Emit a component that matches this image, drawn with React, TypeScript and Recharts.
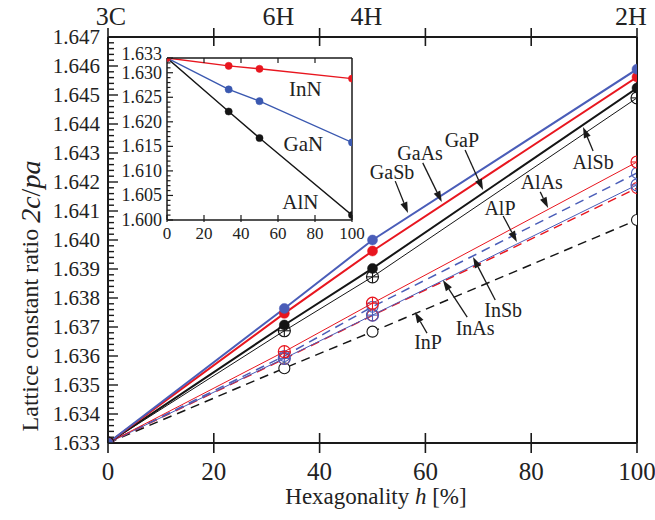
import React from 'react';
import { LineChart, Line, XAxis, YAxis, ReferenceLine, ReferenceDot, CartesianGrid } from 'recharts';

// ---------- data ----------
const HEX = [0, 33.3333, 50, 100];
const POLYTYPES = ['3C', '6H', '4H', '2H'];
const X_TICKS = [0, 20, 40, 60, 80, 100];

const GaSb = [1.633, 1.63764, 1.64, 1.64589];
const GaAs = [1.633, 1.63747, 1.63962, 1.64562];
const GaP = [1.633, 1.63707, 1.63902, 1.64524];
const AlSb = [1.633, 1.63687, 1.63873, 1.6449];
const AlAs = [1.633, 1.63615, 1.63782, 1.64269];
const AlP = [1.633, 1.63592, 1.63741, 1.6419];
const InSb = [1.633, 1.636, 1.6377, 1.64231];
const InAs = [1.633, 1.6359, 1.6374, 1.64179];
const InP = [1.633, 1.63558, 1.63684, 1.64069];

const InN = [1.633, 1.6314, 1.6308, 1.6288];
const GaN = [1.633, 1.6266, 1.6242, 1.6158];
const AlN = [1.633, 1.6221, 1.6167, 1.601];

const MAIN_Y_MIN = 1.633;
const MAIN_Y_MAX = 1.647;
const INSET_Y_MIN = 1.6;
const INSET_Y_MAX = 1.633;
const INSET_Y_LABELS = [1.6, 1.605, 1.61, 1.615, 1.62, 1.625, 1.63, 1.633];

// annotation: label position and arrow (data coords)
const MAIN_NOTES = [
  { text: 'GaSb', tx: 53.7, ty: 1.64234, x1: 54.3, y1: 1.64203, x2: 56.7, y2: 1.64093 },
  { text: 'GaAs', tx: 59.0, ty: 1.643, x1: 59.5, y1: 1.64266, x2: 63.1, y2: 1.64131 },
  { text: 'GaP', tx: 66.9, ty: 1.64345, x1: 67.5, y1: 1.6431, x2: 70.9, y2: 1.64172 },
  { text: 'AlSb', tx: 91.7, ty: 1.64269, x1: 91.7, y1: 1.64307, x2: 89.8, y2: 1.6439 },
  { text: 'AlAs', tx: 82.0, ty: 1.642, x1: 81.7, y1: 1.64166, x2: 83.2, y2: 1.6411 },
  { text: 'AlP', tx: 74.1, ty: 1.6411, x1: 74.7, y1: 1.64083, x2: 77.3, y2: 1.63993 },
  { text: 'InSb', tx: 74.7, ty: 1.63759, x1: 73.2, y1: 1.63793, x2: 69.0, y2: 1.63941 },
  { text: 'InAs', tx: 69.4, ty: 1.63697, x1: 67.9, y1: 1.63734, x2: 63.3, y2: 1.63862 },
  { text: 'InP', tx: 60.5, ty: 1.63648, x1: 60.3, y1: 1.63679, x2: 58.0, y2: 1.63752 },
];
const INSET_NOTES = [
  { text: 'InN', tx: 74.8, ty: 1.6266 },
  { text: 'GaN', tx: 73.7, ty: 1.6154 },
  { text: 'AlN', tx: 72.1, ty: 1.6037 },
];

const mainRows = HEX.map((h, i) => ({
  h, GaSb: GaSb[i], GaAs: GaAs[i], GaP: GaP[i], AlSb: AlSb[i], AlAs: AlAs[i], AlP: AlP[i],
  InSb: InSb[i], InAs: InAs[i], InP: InP[i],
}));
const insetRows = HEX.map((h, i) => ({ h, InN: InN[i], GaN: GaN[i], AlN: AlN[i] }));

const mainYTicks = Array.from({ length: 71 }, (_, i) => +(MAIN_Y_MIN + i * 0.0002).toFixed(4));
const insetYTicks = Array.from({ length: 34 }, (_, i) => +(INSET_Y_MIN + i * 0.001).toFixed(3));
const topTicks = Array.from(new Set([...X_TICKS, ...HEX])).sort((a, b) => a - b);

// ---------- layout ----------
const W = 655;
const H = 520;
const M_LEFT = 108;
const M_RIGHT = 18;
const M_TOP = 37;
const M_BOTTOM = 77;

const I_W = 264;
const I_H = 205;
const I_LEFT_MARGIN = 5;
const I_YAXIS = 52;
const I_RAXIS = 8;
const I_RIGHT_MARGIN = 14;
const I_TOP = 18;
const I_BOTTOM = 25;

const MAIN_CLIP = { x: M_LEFT, y: M_TOP, w: W - M_LEFT - M_RIGHT, h: H - M_TOP - M_BOTTOM };
const INSET_CLIP = {
  x: I_LEFT_MARGIN + I_YAXIS,
  y: I_TOP,
  w: I_W - I_LEFT_MARGIN - I_YAXIS - I_RAXIS - I_RIGHT_MARGIN,
  h: I_H - I_TOP - I_BOTTOM,
};

// ---------- styles ----------
const FONT = "'Liberation Serif', 'Times New Roman', serif";
const BLUE = '#4a5db8';
const RED = '#e8161f';
const BLACK = '#151515';
const INK = '#1a1a1a';

// ---------- ticks ----------
const isMajorMain = (v: number) => Math.abs(v * 1000 - Math.round(v * 1000)) < 1e-6;

const MainLeftTick = (p: any) => {
  const { x, y, payload } = p;
  const v = payload.value;
  const major = isMajorMain(v);
  return (
    <g>
      <line x1={x} x2={x + (major ? 10 : 6)} y1={y} y2={y} stroke={INK} strokeWidth={1.4} />
      {major && (
        <text x={x - 8} y={y} textAnchor="end" dominantBaseline="central" fontSize={21} fontFamily={FONT} fill="#222">
          {v.toFixed(3)}
        </text>
      )}
    </g>
  );
};
const MainRightTick = (p: any) => {
  const { x, y, payload } = p;
  const major = isMajorMain(payload.value);
  return <line x1={x} x2={x - (major ? 10 : 6)} y1={y} y2={y} stroke={INK} strokeWidth={1.4} />;
};
const MainBottomTick = (p: any) => {
  const { x, y, payload } = p;
  return (
    <g>
      <line x1={x} x2={x} y1={y - 10} y2={y + 10} stroke={INK} strokeWidth={1.6} />
      <text x={x} y={y + 28} textAnchor="middle" dominantBaseline="central" fontSize={25} fontFamily={FONT} fill="#222">
        {payload.value}
      </text>
    </g>
  );
};
const MainTopTick = (p: any) => {
  const { x, y, payload } = p;
  const v = payload.value;
  const hasTick = X_TICKS.includes(v);
  const idx = HEX.indexOf(v);
  return (
    <g>
      {hasTick && <line x1={x} x2={x} y1={y - 9} y2={y + 9} stroke={INK} strokeWidth={1.6} />}
      {idx >= 0 && (
        <text
          x={x}
          y={y - 21}
          dx={idx === 0 ? 3 : -6}
          textAnchor="middle"
          dominantBaseline="central"
          fontSize={26}
          fontFamily={FONT}
          fill="#222"
        >
          {POLYTYPES[idx]}
        </text>
      )}
    </g>
  );
};

const isMajorInset = (v: number) => INSET_Y_LABELS.some((m) => Math.abs(m - v) < 1e-6);
const InsetLeftTick = (p: any) => {
  const { x, y, payload } = p;
  const v = payload.value;
  const major = isMajorInset(v);
  const isTop = Math.abs(v - INSET_Y_MAX) < 1e-6;
  return (
    <g>
      <line x1={x} x2={x + (major ? 6 : 3.5)} y1={y} y2={y} stroke={INK} strokeWidth={1.2} />
      {major && (
        <text x={x - 5} y={y - (isTop ? 4 : 0)} textAnchor="end" dominantBaseline="central" fontSize={18} fontFamily={FONT} fill="#222">
          {v.toFixed(3)}
        </text>
      )}
    </g>
  );
};
const InsetRightTick = (p: any) => {
  const { x, y, payload } = p;
  const major = isMajorInset(payload.value);
  return <line x1={x} x2={x - (major ? 6 : 3.5)} y1={y} y2={y} stroke={INK} strokeWidth={1.2} />;
};
const InsetBottomTick = (p: any) => {
  const { x, y, payload } = p;
  return (
    <g>
      <line x1={x} x2={x} y1={y - 5} y2={y + 2} stroke={INK} strokeWidth={1.2} />
      <text x={x} y={y + 13} textAnchor="middle" dominantBaseline="central" fontSize={17} fontFamily={FONT} fill="#222">
        {payload.value}
      </text>
    </g>
  );
};
const InsetTopTick = (p: any) => {
  const { x, y, payload } = p;
  if (payload.value === 0 || payload.value === 100) return <g />;
  return <line x1={x} x2={x} y1={y} y2={y + 5} stroke={INK} strokeWidth={1.2} />;
};

// ---------- markers (clipped to the plot area, like the reference) ----------
type Clip = { x: number; y: number; w: number; h: number };
const Clipped = ({ id, clip, children }: { id: string; clip: Clip; children: React.ReactNode }) => (
  <g>
    <defs>
      <clipPath id={id}>
        <rect x={clip.x} y={clip.y} width={clip.w} height={clip.h} />
      </clipPath>
    </defs>
    <g clipPath={`url(#${id})`}>{children}</g>
  </g>
);
const dotId = (p: any, tag: string) => `clip-${tag}-${p.dataKey}-${p.index}`;

const filledDot = (color: string, r: number, clip: Clip, tag: string) => (p: any) => (
  <Clipped key={dotId(p, tag)} id={dotId(p, tag)} clip={clip}>
    <circle cx={p.cx} cy={p.cy} r={r} fill={color} stroke={color} strokeWidth={0.5} />
  </Clipped>
);
const crossDot = (color: string) => (p: any) => (
  <Clipped key={dotId(p, 'm')} id={dotId(p, 'm')} clip={MAIN_CLIP}>
    <circle cx={p.cx} cy={p.cy} r={6} fill="none" stroke={color} strokeWidth={1.2} />
    <line x1={p.cx - 6} x2={p.cx + 6} y1={p.cy} y2={p.cy} stroke={color} strokeWidth={1.1} />
    <line x1={p.cx} x2={p.cx} y1={p.cy - 6} y2={p.cy + 6} stroke={color} strokeWidth={1.1} />
  </Clipped>
);
const openDot = (color: string, fill: string) => (p: any) => (
  <Clipped key={dotId(p, 'm')} id={dotId(p, 'm')} clip={MAIN_CLIP}>
    <circle cx={p.cx} cy={p.cy} r={5.5} fill={fill} stroke={color} strokeWidth={1.1} />
  </Clipped>
);

// ---------- annotation shapes ----------
const ArrowShape = (p: any) => {
  const { x1, y1, x2, y2 } = p;
  const dx = x2 - x1;
  const dy = y2 - y1;
  const len = Math.hypot(dx, dy) || 1;
  const ux = dx / len;
  const uy = dy / len;
  const hl = 11;
  const hw = 3.6;
  const bx = x2 - ux * hl;
  const by = y2 - uy * hl;
  const pts = `${x2},${y2} ${bx - uy * hw},${by + ux * hw} ${bx + uy * hw},${by - ux * hw}`;
  return (
    <g>
      <line x1={x1} y1={y1} x2={bx} y2={by} stroke={INK} strokeWidth={1.3} />
      <polygon points={pts} fill={INK} />
    </g>
  );
};
const textShape = (text: string, size: number) => (p: any) => (
  <text x={p.cx} y={p.cy} textAnchor="middle" dominantBaseline="central" fontSize={size} fontFamily={FONT} fill="#222">
    {text}
  </text>
);

const YTitle = () => (
  <text
    x={30}
    y={296}
    transform="rotate(-90, 30, 296)"
    textAnchor="middle"
    dominantBaseline="central"
    fontSize={24}
    fontFamily={FONT}
    fill="#222"
  >
    Lattice constant ratio <tspan fontStyle="italic" fontSize={28}>2c</tspan>
    <tspan fontSize={28}>/</tspan>
    <tspan fontStyle="italic" fontSize={28}>pa</tspan>
  </text>
);
const XTitle = () => (
  <text x={376} y={496} textAnchor="middle" dominantBaseline="central" fontSize={23} fontFamily={FONT} fill="#222">
    Hexagonality <tspan fontStyle="italic">h</tspan> [%]
  </text>
);

export default function App() {
  return (
    <div style={{ position: 'absolute', left: 0, top: 0, width: W, height: H, background: '#fff' }}>
      <LineChart width={W} height={H} data={mainRows} margin={{ top: 0, right: 0, bottom: 0, left: 0 }}>
        <XAxis
          xAxisId="b"
          dataKey="h"
          type="number"
          domain={[0, 100]}
          ticks={X_TICKS}
          interval={0}
          allowDataOverflow
          height={M_BOTTOM}
          tickSize={0}
          tickMargin={0}
          tickLine={false}
          axisLine={{ stroke: INK, strokeWidth: 2 }}
          tick={<MainBottomTick />}
          label={<XTitle />}
        />
        <XAxis
          xAxisId="t"
          orientation="top"
          dataKey="h"
          type="number"
          domain={[0, 100]}
          ticks={topTicks}
          interval={0}
          height={M_TOP}
          tickSize={0}
          tickMargin={0}
          tickLine={false}
          axisLine={{ stroke: INK, strokeWidth: 2 }}
          tick={<MainTopTick />}
        />
        <YAxis
          yAxisId="l"
          type="number"
          domain={[MAIN_Y_MIN, MAIN_Y_MAX]}
          ticks={mainYTicks}
          interval={0}
          allowDataOverflow
          width={M_LEFT}
          tickSize={0}
          tickMargin={0}
          tickLine={false}
          axisLine={{ stroke: INK, strokeWidth: 2 }}
          tick={<MainLeftTick />}
          label={<YTitle />}
        />
        <YAxis
          yAxisId="r"
          orientation="right"
          type="number"
          domain={[MAIN_Y_MIN, MAIN_Y_MAX]}
          ticks={mainYTicks}
          interval={0}
          width={M_RIGHT}
          tickSize={0}
          tickMargin={0}
          tickLine={false}
          axisLine={{ stroke: INK, strokeWidth: 2 }}
          tick={<MainRightTick />}
        />

        <Line xAxisId="b" yAxisId="l" dataKey="InP" stroke={BLACK} strokeWidth={1.5} strokeDasharray="9 6" dot={openDot(BLACK, '#fff')} isAnimationActive={false} />
        <Line xAxisId="b" yAxisId="l" dataKey="InAs" stroke={RED} strokeWidth={1.5} strokeDasharray="9 6" dot={openDot(RED, 'none')} isAnimationActive={false} />
        <Line xAxisId="b" yAxisId="l" dataKey="InSb" stroke={BLUE} strokeWidth={1.5} strokeDasharray="9 6" dot={openDot(BLUE, 'none')} isAnimationActive={false} />
        <Line xAxisId="b" yAxisId="l" dataKey="AlP" stroke={BLUE} strokeWidth={1} dot={crossDot(BLUE)} isAnimationActive={false} />
        <Line xAxisId="b" yAxisId="l" dataKey="AlAs" stroke={RED} strokeWidth={1} dot={crossDot(RED)} isAnimationActive={false} />
        <Line xAxisId="b" yAxisId="l" dataKey="AlSb" stroke={BLACK} strokeWidth={1} dot={crossDot(BLACK)} isAnimationActive={false} />
        <Line xAxisId="b" yAxisId="l" dataKey="GaP" stroke={BLACK} strokeWidth={2} dot={filledDot(BLACK, 5, MAIN_CLIP, 'm')} isAnimationActive={false} />
        <Line xAxisId="b" yAxisId="l" dataKey="GaAs" stroke={RED} strokeWidth={2} dot={filledDot(RED, 5, MAIN_CLIP, 'm')} isAnimationActive={false} />
        <Line xAxisId="b" yAxisId="l" dataKey="GaSb" stroke={BLUE} strokeWidth={2} dot={filledDot(BLUE, 5, MAIN_CLIP, 'm')} isAnimationActive={false} />

        {MAIN_NOTES.map((n) => (
          <ReferenceLine
            key={`a-${n.text}`}
            xAxisId="b"
            yAxisId="l"
            segment={[{ x: n.x1, y: n.y1 }, { x: n.x2, y: n.y2 }]}
            shape={ArrowShape}
            ifOverflow="visible"
          />
        ))}
        {MAIN_NOTES.map((n) => (
          <ReferenceDot
            key={`t-${n.text}`}
            xAxisId="b"
            yAxisId="l"
            x={n.tx}
            y={n.ty}
            r={1}
            shape={textShape(n.text, 20)}
            ifOverflow="visible"
          />
        ))}
      </LineChart>

      <div style={{ position: 'absolute', left: 110, top: 40 }}>
        <LineChart width={I_W} height={I_H} data={insetRows} margin={{ top: 0, right: I_RIGHT_MARGIN, bottom: 0, left: I_LEFT_MARGIN }}>
          <CartesianGrid horizontal={false} vertical={false} fill="#fff" />
          <XAxis
            dataKey="h"
            type="number"
            domain={[0, 100]}
            ticks={X_TICKS}
            interval={0}
            allowDataOverflow
            height={I_BOTTOM}
            tickSize={0}
            tickMargin={0}
            tickLine={false}
            axisLine={{ stroke: INK, strokeWidth: 1.5 }}
            tick={<InsetBottomTick />}
          />
          <XAxis
            xAxisId="t"
            orientation="top"
            dataKey="h"
            type="number"
            domain={[0, 100]}
            ticks={X_TICKS}
            interval={0}
            height={I_TOP}
            tickSize={0}
            tickMargin={0}
            tickLine={false}
            axisLine={{ stroke: INK, strokeWidth: 1.5 }}
            tick={<InsetTopTick />}
          />
          <YAxis
            type="number"
            domain={[INSET_Y_MIN, INSET_Y_MAX]}
            ticks={insetYTicks}
            interval={0}
            allowDataOverflow
            width={I_YAXIS}
            tickSize={0}
            tickMargin={0}
            tickLine={false}
            axisLine={{ stroke: INK, strokeWidth: 1.5 }}
            tick={<InsetLeftTick />}
          />
          <YAxis
            yAxisId="r"
            orientation="right"
            type="number"
            domain={[INSET_Y_MIN, INSET_Y_MAX]}
            ticks={insetYTicks}
            interval={0}
            width={I_RAXIS}
            tickSize={0}
            tickMargin={0}
            tickLine={false}
            axisLine={{ stroke: INK, strokeWidth: 1.5 }}
            tick={<InsetRightTick />}
          />
          <Line dataKey="AlN" stroke={BLACK} strokeWidth={1.4} dot={filledDot(BLACK, 3.6, INSET_CLIP, 'i')} isAnimationActive={false} />
          <Line dataKey="GaN" stroke="#3a58b0" strokeWidth={1.4} dot={filledDot('#3a58b0', 3.6, INSET_CLIP, 'i')} isAnimationActive={false} />
          <Line dataKey="InN" stroke={RED} strokeWidth={1.4} dot={filledDot(RED, 3.6, INSET_CLIP, 'i')} isAnimationActive={false} />
          {INSET_NOTES.map((n) => (
            <ReferenceDot key={`i-${n.text}`} x={n.tx} y={n.ty} r={1} shape={textShape(n.text, 21)} ifOverflow="visible" />
          ))}
        </LineChart>
      </div>
    </div>
  );
}
